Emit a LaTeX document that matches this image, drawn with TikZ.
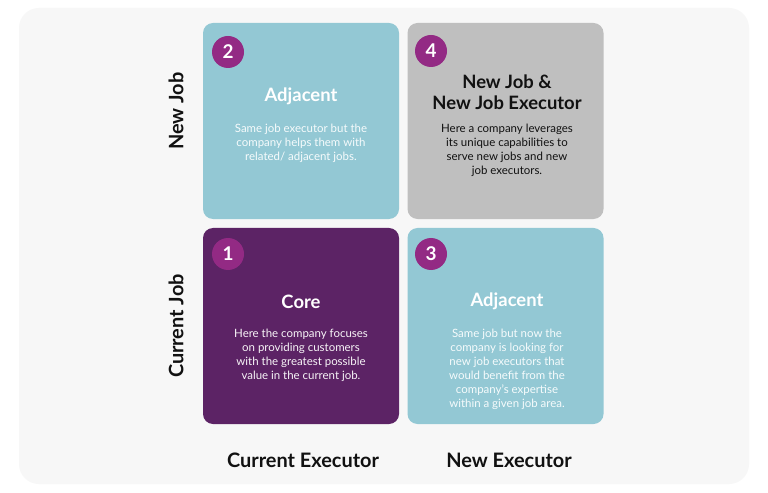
\documentclass[tikz,border=0pt]{standalone}
\usepackage{fontspec}
\setmainfont{Lato}
\definecolor{bgc}{HTML}{F7F7F7}
\definecolor{cyanc}{HTML}{93C8D4}
\definecolor{grayc}{HTML}{BFBFBF}
\definecolor{purc}{HTML}{5C2365}
\definecolor{numc}{HTML}{932A84}
\definecolor{inkc}{HTML}{111111}
\begin{document}
\begin{tikzpicture}[x=1bp,y=-1bp,
 box/.style={rounded corners=10bp, minimum width=196bp, minimum height=196bp, inner sep=0pt, draw=none},
 num/.style={circle, fill=numc, minimum size=32bp, inner sep=0pt, text=white, font=\fontsize{19}{19}\selectfont\bfseries},
 ttl/.style={font=\fontsize{18.5}{21}\selectfont\bfseries, align=center, inner sep=0pt},
 body/.style={font=\fontsize{11.5}{14}\selectfont, align=center, inner sep=0pt},
 axis/.style={font=\fontsize{20}{22}\selectfont\bfseries, text=inkc, inner sep=0pt}]
\useasboundingbox (0,0) rectangle (768,493);
\fill[white] (0,0) rectangle (768,493);
\fill[bgc, rounded corners=20bp] (19,8) rectangle (749,484);
% boxes
\node[box, fill=cyanc] (b2) at (301,121) {};
\node[box, fill=grayc] (b4) at (505.5,121) {};
\node[box, fill=purc] (b1) at (301,326) {};
\node[box, fill=cyanc] (b3) at (505.5,326) {};
% numbers
\node[num] (n2) at (228,52) {2};
\node[num] (n4) at (431,51) {4};
\node[num] (n1) at (228,254) {1};
\node[num] (n3) at (431,254) {3};
% titles
\node[ttl, text=white] (t2) at (301,96) {Adjacent};
\node[ttl, text=inkc] (t4) at (507,92.5) {New Job \&\\New Job Executor};
\node[ttl, text=white] (t1) at (301,302) {Core};
\node[ttl, text=white] (t3) at (507,301) {Adjacent};
% bodies
\node[body, text=white!92!cyanc] (d2) at (301,143) {Same job executor but the\\company helps them with\\related/ adjacent jobs.};
\node[body, text=inkc] (d4) at (507,150) {Here a company leverages\\its unique capabilities to\\serve new jobs and new\\job executors.};
\node[body, text=white!95!purc] (d1) at (301,355) {Here the company focuses\\on providing customers\\with the greatest possible\\value in the current job.};
\node[body, text=white!92!cyanc] (d3) at (507,369.5) {Same job but now the\\company is looking for\\new job executors that\\would benefit from the\\company’s expertise\\within a given job area.};
% axis labels
\node[axis, rotate=90] (ynew) at (176,111) {New Job};
\node[axis, rotate=90] (ycur) at (176,326) {Current Job};
\node[axis] (xcur) at (303,460) {Current Executor};
\node[axis] (xnew) at (509,460) {New Executor};
\end{tikzpicture}
\end{document}
